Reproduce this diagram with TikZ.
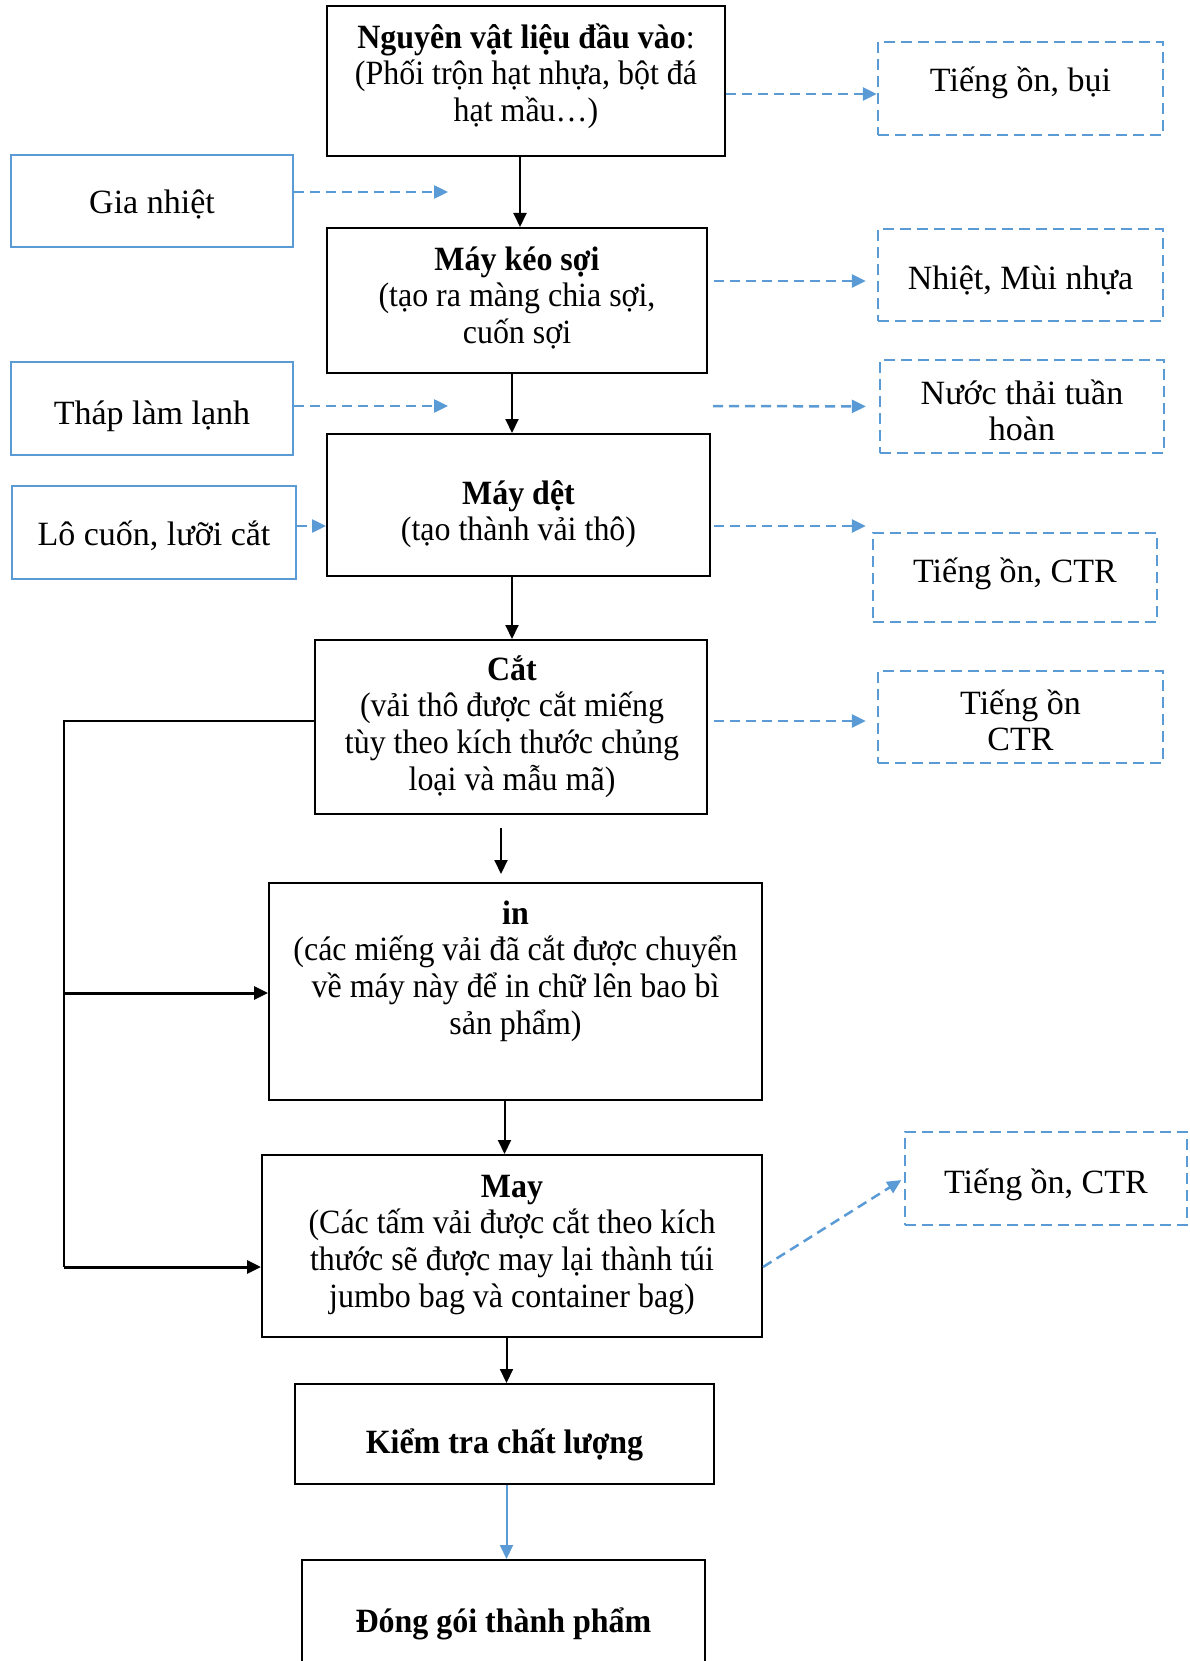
\documentclass[tikz,border=0pt]{standalone}
\usepackage{fontspec}
\setmainfont{Liberation Serif}
% slightly condensed face for the process steps
\newfontfamily\stepface{Liberation Serif}[FakeStretch=0.94]
\usetikzlibrary{arrows.meta}
\definecolor{accent}{RGB}{91,155,213}
% strut that fixes the top of the first text line 36pt above its baseline
\newcommand\lnstrut{\rule{0pt}{36pt}}
% box text: fixed line pitch regardless of stacked accents
\newcommand\boxfont{\fontsize{34}{36.7}\selectfont\lineskiplimit=-100pt\relax}
\newcommand\stepfont{\stepface\fontsize{34}{36.7}\selectfont\lineskiplimit=-100pt\relax}

\begin{document}
\begin{tikzpicture}[x=1pt,y=-1pt,
  every node/.style={font=\boxfont},
  procbox/.style={draw=black, line width=2pt, inner sep=0pt},
  inbox/.style={draw=accent, line width=2.5pt, inner sep=0pt},
  outbox/.style={draw=accent, line width=2.3pt, dash pattern=on 11pt off 6pt, inner sep=0pt},
  txt/.style={align=center, inner sep=0pt, anchor=north, yshift=-2pt},
  one/.style={inner sep=0pt, anchor=base, yshift=-2pt},
  steptxt/.style={txt, font=\stepfont},
  stepone/.style={inner sep=0pt, anchor=base, font=\stepfont},
  tip/.style={-{Triangle[length=14pt,width=13pt]}},
  flow/.style={draw=black, line width=2pt, tip},
  emis/.style={draw=accent, line width=2.5pt, dash pattern=on 10pt off 6pt, tip},
]
\useasboundingbox (0,0) rectangle (1190,1661);

% ---- main process column ----
\node[procbox, minimum width=398pt, minimum height=150pt] (raw)   at (526,81)     {};
\node[procbox, minimum width=380pt, minimum height=145pt] (spin)  at (517,300.5)  {};
\node[procbox, minimum width=383pt, minimum height=142pt] (weave) at (518.5,505)  {};
\node[procbox, minimum width=392pt, minimum height=174pt] (cut)   at (511,727)    {};
\node[procbox, minimum width=493pt, minimum height=217pt] (print) at (515.5,991.5) {};
\node[procbox, minimum width=500pt, minimum height=182pt] (sew)   at (512,1246)   {};
\node[procbox, minimum width=419pt, minimum height=100pt] (qc)    at (504.5,1434) {};
\node[procbox, minimum width=403pt, minimum height=140pt] (pack)  at (503.5,1630) {};

\node[steptxt] (rawt) at (526,10) {\lnstrut\textbf{Nguyên vật liệu đầu vào}:\\(Phối trộn hạt nhựa, bột đá\\hạt mầu…)};
\node[steptxt] (spint) at (517,232) {\lnstrut\textbf{Máy kéo sợi}\\(tạo ra màng chia sợi,\\cuốn sợi};
\node[steptxt] (weavet) at (518.5,466) {\lnstrut\textbf{Máy dệt}\\(tạo thành vải thô)};
\node[steptxt] (cutt) at (512,642) {\lnstrut\textbf{Cắt}\\(vải thô được cắt miếng\\tùy theo kích thước chủng\\loại và mẫu mã)};
\node[steptxt] (printt) at (515.5,886) {\lnstrut\textbf{in}\\(các miếng vải đã cắt được chuyển\\về máy này để in chữ lên bao bì\\sản phẩm)};
\node[steptxt] (sewt) at (512,1159) {\lnstrut\textbf{May}\\(Các tấm vải được cắt theo kích\\thước sẽ được may lại thành túi\\jumbo bag và container bag)};
\node[stepone] (qct) at (504.5,1453) {\textbf{Kiểm tra chất lượng}};
\node[stepone] (packt) at (503.5,1632) {\textbf{Đóng gói thành phẩm}};

% ---- inputs (left) ----
\node[inbox, minimum width=282pt, minimum height=92pt] (heater) at (152,201)   {};
\node[inbox, minimum width=282pt, minimum height=93pt] (cooler) at (152,408.5) {};
\node[inbox, minimum width=284pt, minimum height=93pt] (roller) at (154,532.5) {};
\node[one] (heatert) at (152,212) {Gia nhiệt};
\node[one] (coolert) at (152,422) {Tháp làm lạnh};
\node[one] (rollert) at (154,543) {Lô cuốn, lưỡi cắt};

% ---- emissions (right) ----
\node[outbox, minimum width=285pt, minimum height=93pt] (noise1) at (1020.5,88.5)  {};
\node[outbox, minimum width=285pt, minimum height=92pt] (heat)   at (1020.5,275)   {};
\node[outbox, minimum width=284pt, minimum height=93pt] (water)  at (1022,406.5)   {};
\node[outbox, minimum width=284pt, minimum height=89pt] (noise2) at (1015,577.5)   {};
\node[outbox, minimum width=285pt, minimum height=92pt] (noise3) at (1020.5,717)   {};
\node[outbox, minimum width=282pt, minimum height=93pt] (noise4) at (1046,1178.5)  {};
\node[one] (noise1t) at (1020.5,90) {Tiếng ồn, bụi};
\node[one] (heatt) at (1020.5,288) {Nhiệt, Mùi nhựa};
\node[txt] (watert) at (1022,366) {\lnstrut Nước thải tuần\\hoàn};
\node[one] (noise2t) at (1015,580) {Tiếng ồn, CTR};
\node[txt] (noise3t) at (1020.5,676) {\lnstrut Tiếng ồn\\CTR};
\node[one] (noise4t) at (1046,1191) {Tiếng ồn, CTR};

% ---- main flow ----
\draw[flow] (520,0 |- raw.south) -- (520,0 |- spin.north);
\draw[flow] (512,0 |- spin.south) -- (512,0 |- weave.north);
\draw[flow] (512,0 |- weave.south) -- (512,0 |- cut.north);
\draw[flow, shorten <=13pt, shorten >=8pt] (501,0 |- cut.south) -- (501,0 |- print.north);
\draw[flow] (504.5,0 |- print.south) -- (504.5,0 |- sew.north);
\draw[flow] (506.5,0 |- sew.south) -- (506.5,0 |- qc.north);
\draw[flow, draw=accent] (506.5,0 |- qc.south) -- (506.5,0 |- pack.north);

% ---- side branch from cutting to printing and sewing ----
\coordinate (fbtop) at (64,721);
\coordinate (fbmid) at (64,993);
\coordinate (fbbot) at (64,1267);
\draw[line width=2pt] (cut.west |- fbtop) -- (fbtop) -- (fbbot);
\draw[flow, line width=3pt] (fbmid) -- (print.west |- fbmid);
\draw[flow, line width=3pt] (fbbot) -- (sew.west |- fbbot);

% ---- inputs ----
\coordinate (heatin) at (448,192);
\coordinate (coolin) at (448,406);
\draw[emis] (heater.east |- heatin) -- (heatin);
\draw[emis] (cooler.east |- coolin) -- (coolin);
\draw[emis] (roller.east |- 0,526) -- (weave.west |- 0,526);

% ---- emissions ----
\coordinate (gapout) at (713,406);
\draw[emis] (raw.east |- 0,94) -- (noise1.west |- 0,94);
\draw[emis, shorten <=6pt, shorten >=11pt] (spin.east |- 0,281) -- (heat.west |- 0,281);
\draw[emis, shorten >=13pt] (gapout) -- (water.west);
\draw[emis, shorten <=3pt, shorten >=6pt] (weave.east |- 0,526) -- (noise2.west |- 0,526);
\draw[emis, shorten <=6pt, shorten >=11pt] (cut.east |- 0,721) -- (noise3.west |- 0,721);
\draw[emis, shorten >=3pt] (sew.east |- 0,1267) -- (noise4.west);
\end{tikzpicture}
\end{document}
